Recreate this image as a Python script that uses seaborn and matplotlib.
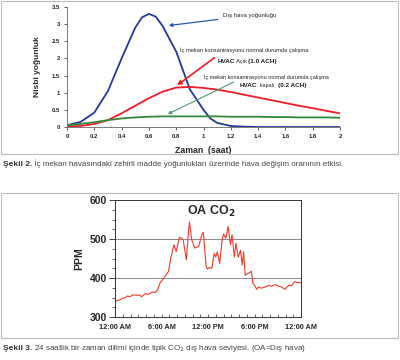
import numpy as np
import pandas as pd
import matplotlib
matplotlib.use('Agg')
import matplotlib.pyplot as plt
import matplotlib.patches as patches
import seaborn as sns

# ---data: figure 2 (relative concentration vs time)---
blue_x = [0, 0.1, 0.2, 0.3, 0.4, 0.5, 0.55, 0.6, 0.65, 0.7, 0.8, 0.9, 1.0, 1.05, 1.1, 1.2, 1.3, 1.4, 1.6, 1.8, 2.0]
blue_y = [0.05, 0.15, 0.42, 1.05, 2.0, 2.9, 3.2, 3.3, 3.22, 2.95, 2.2, 1.1, 0.5, 0.25, 0.12, 0.03, 0.01, 0, 0, 0, 0]
hours = [0, 0.1, 0.2, 0.3, 0.4, 0.5, 0.6, 0.7, 0.8, 0.9, 1.0, 1.1, 1.2, 1.3, 1.4, 1.5, 1.6, 1.7, 1.8, 1.9, 2.0]
red_y = [0.02, 0.03, 0.09, 0.2, 0.4, 0.62, 0.84, 1.03, 1.15, 1.17, 1.14, 1.09, 1.02, 0.94, 0.86, 0.78, 0.7, 0.62, 0.55, 0.47, 0.4]
green_y = [0.05, 0.09, 0.14, 0.2, 0.25, 0.28, 0.3, 0.31, 0.31, 0.31, 0.31, 0.31, 0.3, 0.3, 0.3, 0.29, 0.29, 0.28, 0.28, 0.28, 0.27]

# ---data: figure 3 (outdoor CO2 over 24 h)---
co2_t = [0, 0.4, 0.65, 0.9, 1.3, 1.6, 1.94, 2.3, 2.6, 3.2, 3.4, 3.7, 3.9, 4.2, 4.5, 4.8, 5.2, 5.5, 5.8, 6.3, 6.9,
         7.2, 7.6, 7.9, 8.3, 8.6, 8.8, 9.2, 9.6, 9.9, 10.3, 10.8, 11.2, 11.4, 11.74, 11.9, 12.2, 12.5, 12.8, 13.0,
         13.2, 13.5, 13.8, 14.0, 14.3, 14.6, 14.9, 15.1, 15.4, 15.6, 15.9, 16.2, 16.4, 16.6, 16.8, 17.1, 17.6,
         17.8, 18.0, 18.3, 18.5, 18.9, 19.4, 19.8, 20.2, 20.7, 21.1, 21.5, 21.9, 22.4, 22.8, 23.2, 23.6, 24.0]
co2_ppm = [341, 343, 344, 348, 349, 354, 352, 357, 356, 356, 352, 356, 360, 358, 360, 364, 363, 370, 387, 400, 417,
           451, 485, 468, 504, 502, 498, 447, 544, 498, 477, 481, 511, 517, 433, 423, 427, 425, 463, 454,
           467, 437, 493, 513, 502, 532, 485, 511, 454, 489, 454, 471, 433, 467, 407, 411, 417,
           386, 381, 371, 377, 374, 377, 381, 379, 383, 379, 377, 371, 381, 381, 391, 388, 388]
time_ticks = [0, 6, 12, 18, 24]
time_labels = ['12:00 AM', '6:00 AM', '12:00 PM', '6:00 PM', '12:00 AM']

sns.set_style('ticks')
plt.rcParams['font.family'] = ['Liberation Sans', 'DejaVu Sans']
narrow = ['Liberation Sans Narrow', 'Liberation Sans', 'DejaVu Sans']

fig = plt.figure(figsize=(4, 3.6), dpi=100)

# outer frames
for (x0, y0, x1, y1) in [(1, 1, 398, 154), (1, 193, 398, 338)]:
    fig.patches.append(patches.Rectangle((x0 / 400, 1 - y1 / 360), (x1 - x0) / 400, (y1 - y0) / 360,
                                         transform=fig.transFigure, fill=False, ec='#bdbdbd', lw=0.8))


def caption(y, head, rest):
    # bold figure number followed by the caption text on the same baseline
    yb = 1 - y / 360
    c = fig.text(3 / 400, yb, head, fontsize=6, fontweight='bold', family=narrow,
                 va='baseline', color='#333333')
    fig.add_artist(matplotlib.text.Annotation(rest, xy=(1, yb), xycoords=(c, 'figure fraction'),
                                              va='baseline', fontsize=5.8, family=narrow, color='#444444'))


# ---figure 2---
ax1 = fig.add_axes([0.1675, 0.6472, 0.6825, 0.3333])
sns.lineplot(x=blue_x, y=blue_y, color='#23399a', lw=1.3, ax=ax1)
sns.lineplot(x=hours, y=red_y, color='#ee1c25', lw=1.3, ax=ax1)
sns.lineplot(x=hours, y=green_y, color='#2f8a3a', lw=1.3, ax=ax1)
ax1.set_xlim(0, 2)
ax1.set_ylim(0, 3.5)
ax1.set_xticks(np.arange(0, 2.01, 0.2))
ax1.set_xticklabels(['0', '0.2', '0.4', '0.6', '0.8', '1', '1.2', '1.4', '1.6', '1.8', '2'])
ax1.set_yticks(np.arange(0, 3.51, 0.5))
ax1.set_yticklabels(['0', '0.5', '1', '1.5', '2', '2.5', '3', '3.5'])
ax1.tick_params(labelsize=4.2, length=2, width=0.5, pad=3, colors='#222222')
for lab in ax1.get_xticklabels() + ax1.get_yticklabels():
    lab.set_fontweight('bold')
sns.despine(ax=ax1)
for s in ['left', 'bottom']:
    ax1.spines[s].set_linewidth(0.6)
    ax1.spines[s].set_color('#666666')
ax1.set_xlabel('Zaman  (saat)', fontsize=6.3, fontweight='bold', labelpad=5)
ax1.set_ylabel('Nisbi yoğunluk', fontsize=6, fontweight='bold', labelpad=8)

ax1.annotate('Dış hava yoğunluğu', xy=(0.725, 2.95), xytext=(1.14, 3.25), fontsize=4.3,
             va='center', color='#222222',
             arrowprops=dict(arrowstyle='-|>', color='#2a5aa8', lw=0.9, mutation_scale=5, shrinkA=1))
ax1.text(0.83, 2.25, 'İç mekan konsantrasyonu normal durumda çalışma', fontsize=4.1, va='center', color='#222222')
ax1.annotate('', xy=(0.79, 1.17), xytext=(1.08, 2.02),
             arrowprops=dict(arrowstyle='-|>', color='#ee1c25', lw=1.2, mutation_scale=6, shrinkA=0))
t = ax1.text(1.1, 1.92, 'HVAC', fontsize=4.6, fontweight='bold', va='center', color='#222222')
t = ax1.annotate(' Açık ', xy=(1, 0.5), xycoords=t, va='center', fontsize=4, color='#222222')
ax1.annotate('(1.0 ACH)', xy=(1, 0.5), xycoords=t, va='center', fontsize=4.6, fontweight='bold', color='#222222')
ax1.text(1.0, 1.45, 'İç mekan konsantrasyonu normal durumda çalışma', fontsize=4.0, va='center', color='#222222')
ax1.annotate('', xy=(0.72, 0.34), xytext=(1.22, 1.31),
             arrowprops=dict(arrowstyle='-|>', color='#4f9a72', lw=0.8, mutation_scale=5, shrinkA=0))
t = ax1.text(1.265, 1.22, 'HVAC', fontsize=4.6, fontweight='bold', va='center', color='#222222')
t = ax1.annotate('  kapalı  ', xy=(1, 0.5), xycoords=t, va='center', fontsize=3.8, color='#222222')
ax1.annotate('(0.2 ACH)', xy=(1, 0.5), xycoords=t, va='center', fontsize=4.6, fontweight='bold', color='#222222')

caption(166, 'Şekil 2.', ' İç mekan havasındaki zehirli madde yoğunlukları üzerinde hava değişim oranının etkisi.')

# ---figure 3---
ax2 = fig.add_axes([0.2875, 0.1194, 0.465, 0.325])
sns.lineplot(x=co2_t, y=co2_ppm, color='#f03a2a', lw=0.8, ax=ax2)
ax2.set_xlim(0, 24)
ax2.set_ylim(300, 600)
ax2.set_yticks([300, 400, 500, 600])
ax2.set_yticks(np.arange(300, 601, 25), minor=True)
ax2.set_xticks(time_ticks)
ax2.set_xticklabels(time_labels)
ax2.set_xticks(np.arange(0, 25, 1), minor=True)
ax2.grid(axis='y', which='major', color='#888888', lw=0.7)
ax2.tick_params(axis='y', which='major', labelsize=7.5, length=4, width=0.6, pad=2)
ax2.tick_params(axis='y', which='minor', length=2, width=0.5)
ax2.tick_params(axis='x', which='both', direction='in', length=2, width=0.5, labelsize=5.3, pad=5)
for lab in ax2.get_xticklabels() + ax2.get_yticklabels():
    lab.set_fontweight('bold')
for s in ax2.spines.values():
    s.set_linewidth(0.7)
    s.set_color('#333333')
ax2.set_ylabel('PPM', fontsize=7.5, fontweight='bold', labelpad=4)
ax2.set_xlabel('')
ax2.text(0.52, 0.9, 'OA CO$_\\mathbf{2}$', transform=ax2.transAxes, ha='center', va='center',
         fontsize=9, fontweight='bold')

caption(350, 'Şekil 3.', ' 24 saatlik bir zaman dilimi içinde tipik CO$_2$ dış hava seviyesi. (OA=Dış hava)')

fig.savefig('out.png', dpi=100)
